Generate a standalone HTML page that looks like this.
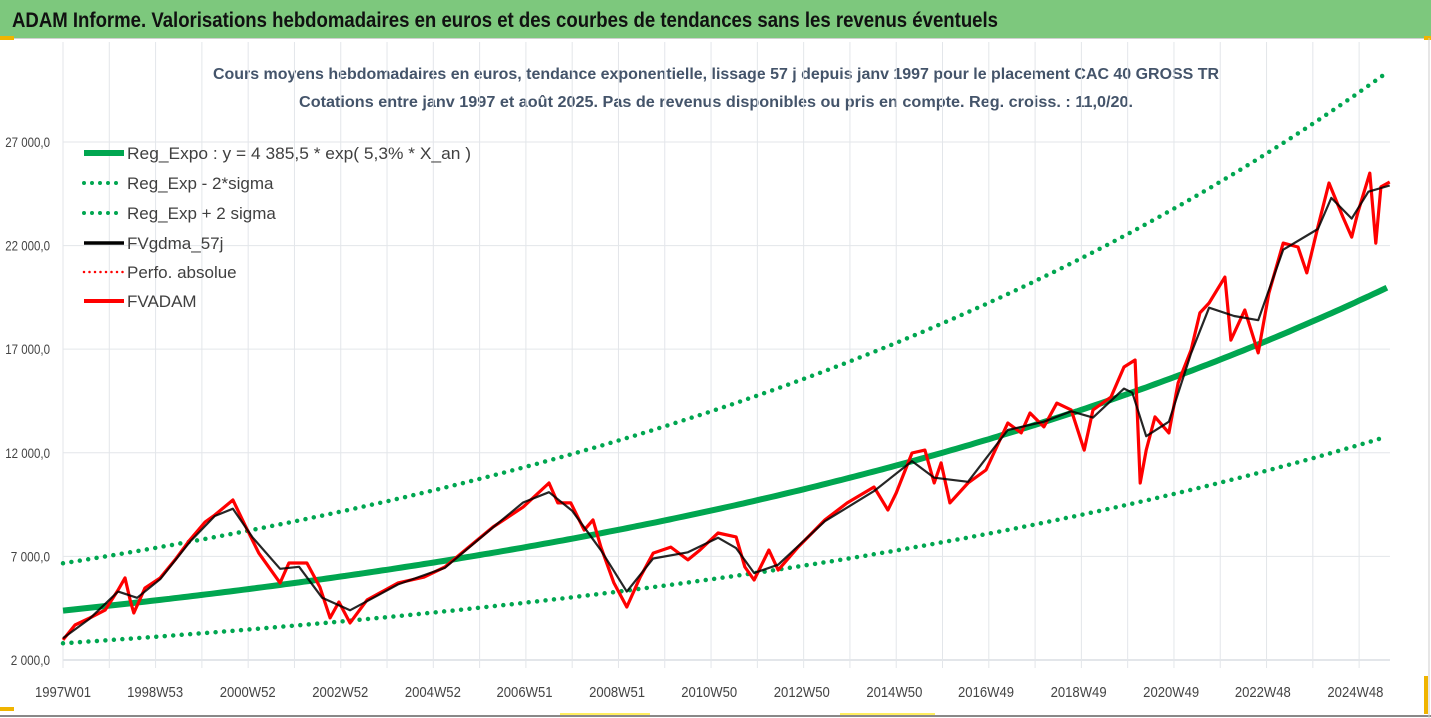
<!DOCTYPE html>
<html><head><meta charset="utf-8"><style>
html,body{margin:0;padding:0;background:#fff;}
svg{display:block;font-family:"Liberation Sans",sans-serif;}
</style></head><body>
<svg id="chart" width="1431" height="718" viewBox="0 0 1431 718" xmlns="http://www.w3.org/2000/svg">
<rect x="0" y="0" width="1431" height="718" fill="#fff"/>
<rect x="0" y="0" width="1431" height="38" fill="#7dc87d"/>
<line x1="0" y1="38.5" x2="1431" y2="38.5" stroke="#d0d0d0"/>
<rect x="0" y="36" width="14" height="4" fill="#f0b400"/>
<rect x="1424" y="36" width="7" height="4" fill="#f0b400"/>
<rect x="1424" y="676" width="4" height="38" fill="#f0b400"/>
<rect x="0" y="707" width="14" height="4" fill="#f0b400"/>
<line x1="0" y1="716" x2="1431" y2="716" stroke="#888" stroke-width="2"/>
<line x1="1429" y1="38" x2="1429" y2="718" stroke="#ccc"/>
<line x1="560" y1="714" x2="650" y2="714" stroke="#ffef60" stroke-width="2"/>
<line x1="840" y1="714" x2="935" y2="714" stroke="#ffef60" stroke-width="2"/>
<text x="12" y="27" font-size="21" font-weight="bold" fill="#111" textLength="986" lengthAdjust="spacingAndGlyphs">ADAM Informe. Valorisations hebdomadaires en euros et des courbes de tendances sans les revenus éventuels</text>
<text x="716" y="79" text-anchor="middle" font-size="16" font-weight="bold" fill="#44546a" textLength="1006" lengthAdjust="spacingAndGlyphs">Cours moyens hebdomadaires en euros, tendance exponentielle, lissage 57 j depuis janv 1997 pour le placement CAC 40 GROSS TR</text>
<text x="716" y="107" text-anchor="middle" font-size="16" font-weight="bold" fill="#44546a" textLength="834" lengthAdjust="spacingAndGlyphs">Cotations entre janv 1997 et août 2025. Pas de revenus disponibles ou pris en compte. Reg. croiss. : 11,0/20.</text>
<g id="grid"></g>
<g id="axes"></g>
<g id="series"></g>
<g id="legend"></g>
</svg>
<script>
// ---- data ----
const yTicks = [2000, 7000, 12000, 17000, 22000, 27000];
const yTickLabels = ["2 000,0", "7 000,0", "12 000,0", "17 000,0", "22 000,0", "27 000,0"];
const xTickYears = [1997.0, 1998.99, 2000.99, 2002.99, 2004.99, 2006.97, 2008.97, 2010.96, 2012.96, 2014.96, 2016.94, 2018.94, 2020.94, 2022.92, 2024.92];
const xTickLabels = ["1997W01","1998W53","2000W52","2002W52","2004W52","2006W51","2008W51","2010W50","2012W50","2014W50","2016W49","2018W49","2020W49","2022W48","2024W48"];
const regA = 4385.5;
const regRate = 0.053;
const bandUp = 1.52;
const bandDown = 0.64;
const startYear = 1997.0;
const endYear = 2025.66;
const fvYears = [1997.00,1997.26,1997.58,1997.91,1998.19,1998.34,1998.45,1998.53,1998.77,1999.10,1999.42,1999.74,2000.07,2000.28,2000.67,2000.93,2001.23,2001.69,2001.88,2002.27,2002.55,2002.77,2002.96,2003.20,2003.57,2004.24,2004.80,2005.25,2005.64,2006.29,2006.94,2007.50,2007.69,2007.97,2008.26,2008.45,2008.62,2008.90,2009.18,2009.47,2009.75,2010.13,2010.50,2010.76,2011.15,2011.54,2011.73,2011.93,2012.25,2012.45,2012.88,2013.46,2013.94,2014.52,2014.82,2015.00,2015.34,2015.62,2015.82,2015.97,2016.16,2016.55,2016.94,2017.41,2017.70,2017.89,2018.19,2018.47,2018.78,2019.06,2019.25,2019.64,2019.92,2020.16,2020.27,2020.40,2020.59,2020.89,2021.09,2021.37,2021.56,2021.76,2022.10,2022.23,2022.53,2022.82,2023.05,2023.36,2023.68,2023.87,2024.11,2024.35,2024.65,2024.84,2024.97,2025.23,2025.36,2025.47,2025.66];
const fvValues = [2970,3690,4030,4410,5380,5960,4900,4270,5470,5960,6830,7790,8660,9000,9720,8520,7160,5720,6680,6680,5520,4030,4800,3790,4900,5720,6000,6490,7210,8420,9380,10540,9580,9580,8270,8760,7450,5720,4560,6000,7160,7450,6830,7310,8130,7940,6490,5860,7310,6340,7450,8760,9580,10350,9240,10060,11990,12130,10540,11510,9580,10540,11170,13440,12960,13920,13250,14400,14070,12130,14070,14690,16140,16480,10540,12130,13730,12960,15370,16960,18750,19230,20480,17440,18890,16820,19710,22120,21930,20680,22900,25020,23380,22410,23570,25500,22120,24830,25070];
const smoothYears = [1997.00,1997.58,1998.19,1998.60,1999.10,1999.74,2000.28,2000.67,2001.10,2001.69,2002.10,2002.60,2003.20,2004.24,2005.25,2006.29,2006.94,2007.50,2008.00,2008.62,2009.18,2009.75,2010.50,2011.15,2011.54,2011.93,2012.45,2013.46,2014.52,2015.34,2015.82,2016.55,2017.41,2018.19,2018.78,2019.25,2019.92,2020.10,2020.40,2020.89,2021.37,2021.76,2022.30,2022.82,2023.36,2024.11,2024.40,2024.84,2025.20,2025.66];
const smoothValues = [3050,4000,5300,5000,5900,7700,8950,9300,7900,6400,6500,5000,4400,5650,6450,8400,9600,10100,9200,7300,5300,6900,7200,7900,7400,6200,6600,8700,10150,11600,10800,10600,13100,13500,14000,13700,15100,14900,12800,13500,16800,19000,18600,18400,21800,22800,24300,23300,24600,24900];

// ---- axes ----
const plotL = 63, plotR = 1390, plotB = 660;
function xScale(yr){ return plotL + (yr - startYear) * 46.29; }
function yScale(v){ return plotB - (v - 2000) / 48.26; }
const NS = "http://www.w3.org/2000/svg";
function mk(tag, attrs, parent){ const e = document.createElementNS(NS, tag); for (const k in attrs) e.setAttribute(k, attrs[k]); parent.appendChild(e); return e; }
const grid = document.getElementById('grid'), axes = document.getElementById('axes'), series = document.getElementById('series'), legend = document.getElementById('legend');

for (let yr = 1997; yr <= 2025; yr++) {
  const x = xScale(yr);
  const g = mk('line', {x1:x, y1:42, x2:x, y2:plotB+8, stroke:'#e3e6ea', 'stroke-width':1}, grid);
  
  
}
yTicks.forEach((v, i) => {
  const y = yScale(v);
  const g = mk('line', {x1:plotL, y1:y, x2:plotR, y2:y, stroke:'#e3e6ea', 'stroke-width': v === 2000 ? 2 : 1}, grid);
  
  
  const t = mk('text', {x:50, y:y+5, 'text-anchor':'end', 'font-size':14, fill:'#444', textLength: yTickLabels[i].length*5.6, lengthAdjust:'spacingAndGlyphs'}, axes);
  t.textContent = yTickLabels[i];
  
  
});
xTickYears.forEach((yr, i) => {
  const t = mk('text', {x:xScale(yr), y:697, 'text-anchor':'middle', 'font-size':15, fill:'#444', textLength:56, lengthAdjust:'spacingAndGlyphs'}, axes);
  t.textContent = xTickLabels[i];
  
  
});

// ---- series ----
function regVal(yr, f){ return regA * Math.exp(regRate * (yr - startYear)) * f; }
function curvePts(f){ const p = []; for (let yr = startYear; yr <= endYear + 0.001; yr += 0.1) p.push(xScale(yr).toFixed(1)+','+yScale(regVal(yr, f)).toFixed(1)); return p.join(' '); }
function ptsFrom(xs, vs){ return xs.map((yr, i) => xScale(yr).toFixed(1)+','+yScale(vs[i]).toFixed(1)).join(' '); }

const lo = mk('polyline', {points:curvePts(bandDown), fill:'none', stroke:'#00a650', 'stroke-width':4.5, 'stroke-linecap':'round', 'stroke-dasharray':'0 8.5'}, series);


const up = mk('polyline', {points:curvePts(bandUp), fill:'none', stroke:'#00a650', 'stroke-width':4.5, 'stroke-linecap':'round', 'stroke-dasharray':'0 8.5'}, series);


const tr = mk('polyline', {points:curvePts(1), fill:'none', stroke:'#00a650', 'stroke-width':6}, series);


const fvl = mk('polyline', {points:ptsFrom(fvYears, fvValues), fill:'none', stroke:'#ff0000', 'stroke-width':3.2, 'stroke-linejoin':'round'}, series);


const sm = mk('polyline', {points:ptsFrom(smoothYears, smoothValues), fill:'none', stroke:'#000', 'stroke-width':2.2, 'stroke-linejoin':'round', opacity:0.85}, series);



// ---- legend ----
const legendItems = [
  ['Reg_Expo : y = 4 385,5 * exp( 5,3% *  X_an )', '#00a650', 6, null, 'legend-reg-expo'],
  ['Reg_Exp - 2*sigma', '#00a650', 4, '0 8', 'legend-reg-exp-minus'],
  ['Reg_Exp + 2 sigma', '#00a650', 4, '0 8', 'legend-reg-exp-plus'],
  ['FVgdma_57j', '#000', 3.5, null, 'legend-fvgdma'],
  ['Perfo. absolue', '#ff0000', 2.5, '0 5.5', 'legend-perfo-absolue'],
  ['FVADAM', '#ff0000', 4, null, 'legend-fvadam']
];
const legendY = [153, 183, 213, 243, 272, 301];
legendItems.forEach((it, i) => {
  const g = mk('g', {}, legend);
  
  
  const y = legendY[i];
  const a = {x1:84, y1:y, x2:124, y2:y, stroke:it[1], 'stroke-width':it[2]};
  if (it[3]) { a['stroke-dasharray'] = it[3]; a['stroke-linecap'] = 'round'; }
  mk('line', a, g);
  const t = mk('text', {x:127, y:y+6, 'font-size':17, fill:'#404040'}, g);
  t.textContent = it[0];
  if (i === 0) { t.setAttribute('textLength', 344); t.setAttribute('lengthAdjust', 'spacingAndGlyphs'); }
});
</script>
</body></html>
